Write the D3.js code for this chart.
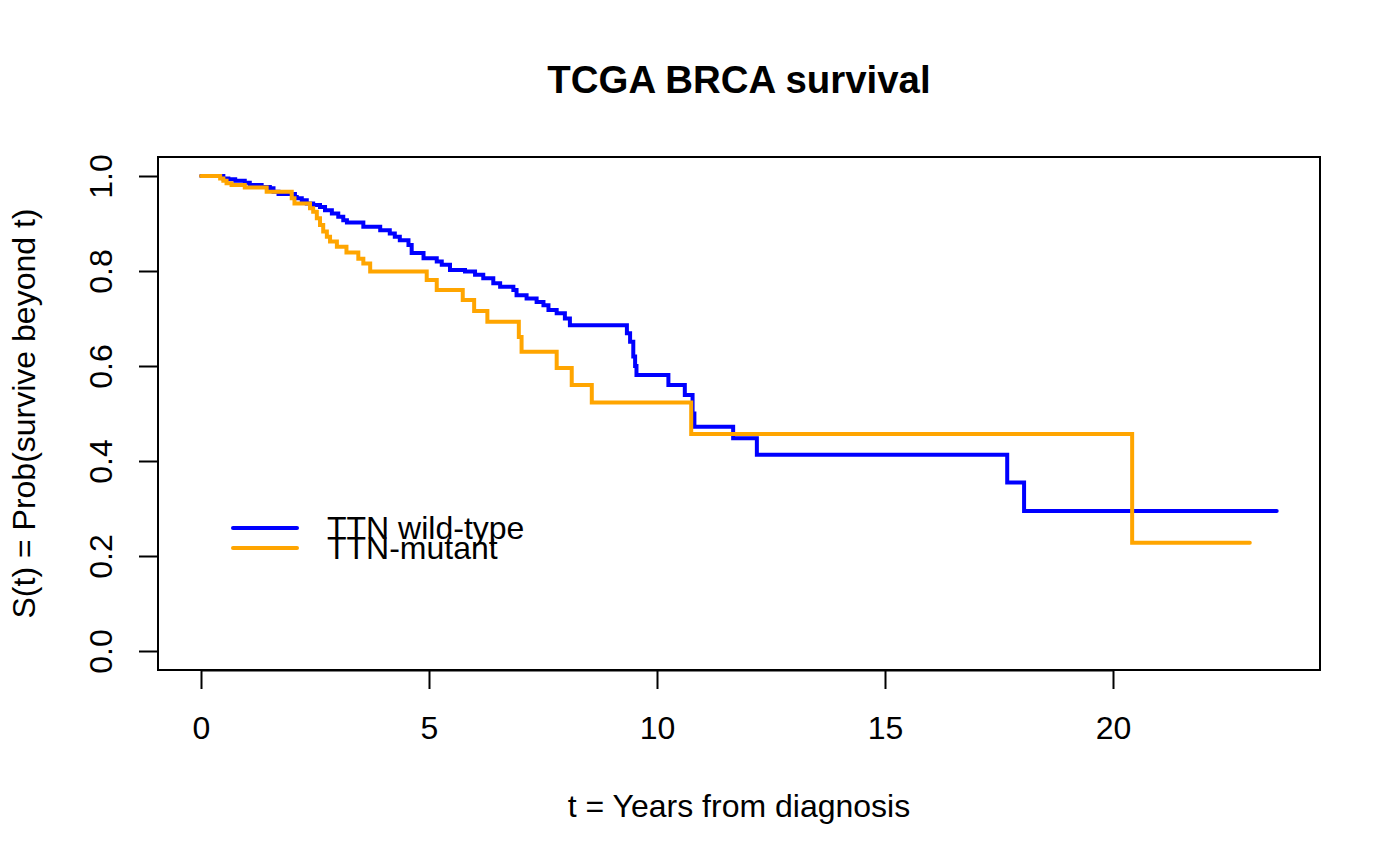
<!DOCTYPE html>
<html>
<head>
<meta charset="utf-8">
<script src="https://cdn.jsdelivr.net/npm/d3@7"></script>
<style>
  html, body { margin: 0; padding: 0; background: #fff; }
  svg { display: block; }
  text { font-family: "Liberation Sans", Arial, Helvetica, sans-serif; fill: #000; }
</style>
</head>
<body>
<script>
// ---- data ----
const xTicks = [0, 5, 10, 15, 20];
const yTicks = [0, 0.2, 0.4, 0.6, 0.8, 1.0];

const seriesNames = ["TTN wild-type", "TTN-mutant"];
const seriesColors = ["#0000FF", "#FFA500"];

// TTN wild-type: step times (years) and survival after each step
const wtTimes = [0, 0.49, 0.60, 0.75, 0.96, 1.07, 1.33, 1.51, 1.59, 1.70, 2.06, 2.10, 2.21, 2.32, 2.46, 2.61, 2.72, 2.87, 3.01, 3.12, 3.20,
  3.56, 3.93, 4.14, 4.25, 4.36, 4.55, 4.62, 4.88, 5.17, 5.28, 5.46, 5.79, 6.01, 6.19, 6.41, 6.56, 6.85, 6.92, 7.14, 7.36, 7.51, 7.62, 7.80, 7.98, 8.09,
  9.34, 9.41, 9.48, 9.52, 9.55, 10.25, 10.61, 10.78, 10.82, 11.67, 12.19, 17.68, 18.05, 23.59];
const wtSurv = [1.0, 0.995, 0.993, 0.99, 0.986, 0.981, 0.977, 0.974, 0.967, 0.962, 0.956, 0.953, 0.949, 0.942, 0.939, 0.935, 0.928, 0.921, 0.914, 0.907, 0.902,
  0.893, 0.886, 0.879, 0.872, 0.865, 0.855, 0.838, 0.827, 0.820, 0.813, 0.802, 0.799, 0.792, 0.785, 0.774, 0.767, 0.760, 0.749, 0.742, 0.735, 0.728, 0.718, 0.711, 0.700, 0.686,
  0.669, 0.651, 0.620, 0.600, 0.581, 0.560, 0.539, 0.500, 0.472, 0.448, 0.413, 0.355, 0.295, 0.295];

// TTN-mutant
const mutTimes = [0, 0.42, 0.49, 0.56, 0.67, 0.96, 1.44, 1.99, 2.05, 2.39, 2.46, 2.54, 2.61, 2.68, 2.76, 2.83, 2.98, 3.19, 3.45, 3.56, 3.71,
  4.95, 5.17, 5.74, 5.99, 6.28, 6.97, 7.03, 7.80, 8.13, 8.57, 10.75, 20.42, 23.0];
const mutSurv = [1.0, 0.995, 0.99, 0.985, 0.981, 0.976, 0.967, 0.953, 0.942, 0.932, 0.925, 0.911, 0.897, 0.883, 0.872, 0.862, 0.851, 0.839, 0.826, 0.816, 0.799,
  0.781, 0.760, 0.739, 0.716, 0.693, 0.661, 0.630, 0.596, 0.560, 0.523, 0.457, 0.228, 0.228];

const titleText = "TCGA BRCA survival";
const xLabel = "t = Years from diagnosis";
const yLabel = "S(t) = Prob(survive beyond t)";

// ---- layout ----
const W = 1400, H = 866;
const box = { left: 158, right: 1320, top: 157, bottom: 670 };
const fs = 32;

const svg = d3.select("body").append("svg").attr("width", W).attr("height", H);

const x = d3.scaleLinear().domain([0, 20]).range([201, 1113]);
const y = d3.scaleLinear().domain([-0.04, 1.04]).range([box.bottom, box.top]);

// plot box
svg.append("rect")
  .attr("x", box.left).attr("y", box.top)
  .attr("width", box.right - box.left).attr("height", box.bottom - box.top)
  .attr("fill", "none").attr("stroke", "#000").attr("stroke-width", 2);

// x axis
const gx = svg.append("g").attr("transform", `translate(0,${box.bottom})`)
  .call(d3.axisBottom(x).tickValues(xTicks).tickSize(19).tickSizeOuter(0).tickFormat(d3.format("d")));
gx.select(".domain").attr("stroke", "#000").attr("stroke-width", 2);
gx.selectAll(".tick line").attr("stroke", "#000").attr("stroke-width", 2);
gx.selectAll(".tick text").attr("dy", null).attr("y", 69)
  .style("font-size", fs + "px").style("font-family", '"Liberation Sans", Arial, sans-serif').attr("fill", "#000");

// y axis
const gy = svg.append("g").attr("transform", `translate(${box.left},0)`)
  .call(d3.axisLeft(y).tickValues(yTicks).tickSize(19).tickSizeOuter(0).tickFormat(d3.format(".1f")));
gy.select(".domain").attr("stroke", "#000").attr("stroke-width", 2)
  .attr("d", `M0,${y(0)}V${y(1)}`);
gy.selectAll(".tick line").attr("stroke", "#000").attr("stroke-width", 2);
gy.selectAll(".tick text").attr("dy", null).attr("x", null).attr("y", null)
  .attr("text-anchor", "middle")
  .attr("transform", "translate(-46,0) rotate(-90)")
  .style("font-size", fs + "px").style("font-family", '"Liberation Sans", Arial, sans-serif').attr("fill", "#000");

// curves
const line = d3.line().x(d => x(d[0])).y(d => y(d[1])).curve(d3.curveStepAfter);
const series = [
  { t: wtTimes, s: wtSurv, c: seriesColors[0] },
  { t: mutTimes, s: mutSurv, c: seriesColors[1] }
];
series.forEach(sr => {
  const pts = sr.t.map((t, i) => [t, sr.s[i]]);
  svg.append("path").datum(pts)
    .attr("d", line)
    .attr("fill", "none")
    .attr("stroke", sr.c)
    .attr("stroke-width", 4)
    .attr("stroke-linejoin", "miter")
    .attr("stroke-linecap", "round");
});

// title and axis labels
svg.append("text").attr("x", (box.left + box.right) / 2).attr("y", 93)
  .attr("text-anchor", "middle").style("font-size", "38.4px").style("font-weight", "bold")
  .text(titleText);
svg.append("text").attr("x", (box.left + box.right) / 2).attr("y", 817)
  .attr("text-anchor", "middle").style("font-size", fs + "px")
  .text(xLabel);
svg.append("text")
  .attr("transform", `translate(35,${(box.top + box.bottom) / 2}) rotate(-90)`)
  .attr("text-anchor", "middle").style("font-size", fs + "px")
  .text(yLabel);

// legend
const legY = [528, 548];
seriesNames.forEach((name, i) => {
  svg.append("line")
    .attr("x1", 233).attr("x2", 297)
    .attr("y1", legY[i]).attr("y2", legY[i])
    .attr("stroke", seriesColors[i]).attr("stroke-width", 4).attr("stroke-linecap", "round");
  svg.append("text").attr("x", 327).attr("y", legY[i] + 11)
    .style("font-size", fs + "px").text(name);
});
</script>
</body>
</html>
